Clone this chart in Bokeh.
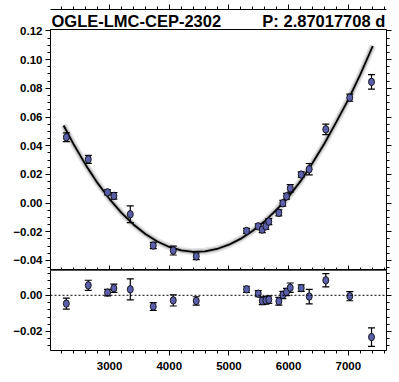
from bokeh.plotting import figure
from bokeh.models import (Range1d, LinearAxis, Span, SingleIntervalTicker, Title,
                          ColumnDataSource, CustomJSTickFormatter)
from bokeh.layouts import column
from bokeh.embed import file_html
from bokeh.resources import INLINE

title_left = "OGLE-LMC-CEP-2302"
title_right = "P: 2.87017708 d"

time = [2275, 2643, 2966, 3072, 3347, 3732, 4067, 4452, 5295, 5491, 5558,
        5618, 5668, 5836, 5903, 5965, 6027, 6211, 6345, 6623, 7025, 7389]
flux = [0.0459, 0.0305, 0.0075, 0.0050, -0.0078, -0.0296, -0.0331, -0.0371,
        -0.0194, -0.0162, -0.0185, -0.0162, -0.0129, -0.0068, -0.0001, 0.0047,
        0.0103, 0.0199, 0.0236, 0.0514, 0.0735, 0.0845]
flux_err = [0.0030, 0.0028, 0.0018, 0.0023, 0.0058, 0.0022, 0.0031, 0.0023,
            0.0017, 0.0017, 0.0021, 0.0021, 0.0021, 0.0021, 0.0020, 0.0020,
            0.0026, 0.0018, 0.0040, 0.0037, 0.0025, 0.0051]
resid = [-0.0046, 0.0055, 0.0015, 0.0039, 0.0033, -0.0062, -0.0028, -0.0031,
         0.0033, 0.0009, -0.0031, -0.0028, -0.0024, -0.0033, 0.0002, 0.0018,
         0.0042, 0.0040, -0.0007, 0.0083, -0.0005, -0.0231]

model_t = [2230, 2400, 2600, 2800, 3000, 3200, 3400, 3600, 3800, 4000, 4200,
           4400, 4600, 4800, 5000, 5200, 5400, 5600, 5800, 6000, 6200, 6400,
           6600, 6800, 7000, 7200, 7410]
model_f = [0.0541, 0.0408, 0.0266, 0.0139, 0.0028, -0.0068, -0.0149, -0.0216,
           -0.0268, -0.0306, -0.0330, -0.0340, -0.0336, -0.0320, -0.0290,
           -0.0248, -0.0193, -0.0126, -0.0046, 0.0045, 0.0153, 0.0279, 0.0415,
           0.0566, 0.0721, 0.0895, 0.1095]

FONT = "Liberation Sans"
PT_FILL = "#5b5ea8"
X0, X1 = 2010, 7640
xr = Range1d(X0, X1)

src = ColumnDataSource(dict(
    t=time, f=flux,
    lo=[a - b for a, b in zip(flux, flux_err)],
    hi=[a + b for a, b in zip(flux, flux_err)],
    r=resid,
    rlo=[a - b for a, b in zip(resid, flux_err)],
    rhi=[a + b for a, b in zip(resid, flux_err)],
))

fmt = CustomJSTickFormatter(code="""
if (Math.abs(tick) < 1e-9) { return '0.00'; }
return (tick < 0 ? '\\u2212' : '') + Math.abs(tick).toFixed(2);
""")


def style_axis(ax, labels=True, inward=False):
    ax.axis_line_color = "black"
    ax.major_tick_line_color = "black"
    ax.minor_tick_line_color = "black"
    if inward:
        ax.major_tick_in, ax.major_tick_out = 5, 0
        ax.minor_tick_in, ax.minor_tick_out = 3, 0
    else:
        ax.major_tick_in, ax.major_tick_out = 0, 5
        ax.minor_tick_in, ax.minor_tick_out = 0, 3
    ax.major_label_text_font = FONT
    ax.major_label_text_font_style = "bold"
    ax.major_label_text_color = "black"
    ax.major_label_text_font_size = "11.5px"
    if labels:
        ax.major_label_standoff = 3
    else:
        ax.formatter = CustomJSTickFormatter(code="return '';")
        ax.major_label_standoff = 0


def draw_points(p, y, lo, hi):
    p.segment(x0="t", y0=lo, x1="t", y1=hi, source=src, line_color="black", line_width=1.2)
    p.scatter(x="t", y=lo, source=src, marker="dash", size=7, line_color="black", line_width=1.2)
    p.scatter(x="t", y=hi, source=src, marker="dash", size=7, line_color="black", line_width=1.2)
    p.ellipse(x="t", y=y, width=6, height=7.5, width_units="screen", height_units="screen",
              source=src, fill_color=PT_FILL, line_color="black", line_width=0.8)


def base_fig(h, yr, top, bottom):
    f = figure(width=394, height=h, x_range=xr, y_range=yr,
               output_backend="svg", toolbar_location=None,
               min_border_left=50, min_border_right=8,
               min_border_top=top, min_border_bottom=bottom)
    f.grid.visible = False
    f.background_fill_color = "white"
    f.border_fill_color = "white"
    return f


# ---------------- top panel ----------------
top = base_fig(270, Range1d(-0.047, 0.121), 29, 0)
top.outline_line_color = "black"

gap = "\u00a0" * 9
top.add_layout(Title(text=title_left + gap + title_right, align="left", offset=1,
                     text_font=FONT, text_font_style="bold", text_font_size="16.5px",
                     text_color="black", standoff=0), "above")

top.xaxis.ticker = SingleIntervalTicker(interval=1000, num_minor_ticks=5)
style_axis(top.xaxis[0], labels=False, inward=True)
top.yaxis.ticker = SingleIntervalTicker(interval=0.02, num_minor_ticks=4)
top.yaxis.formatter = fmt
style_axis(top.yaxis[0])

ax_above = LinearAxis(ticker=SingleIntervalTicker(interval=1000, num_minor_ticks=5))
style_axis(ax_above, labels=False)
top.add_layout(ax_above, "above")
ax_right = LinearAxis(ticker=SingleIntervalTicker(interval=0.02, num_minor_ticks=4))
style_axis(ax_right, labels=False)
top.add_layout(ax_right, "right")

top.line(model_t, model_f, line_color="#b0b0b0", line_width=7, line_alpha=0.35)
top.line(model_t, model_f, line_color="#808080", line_width=4, line_alpha=0.4)
top.line(model_t, model_f, line_color="black", line_width=1.8)
draw_points(top, "f", "lo", "hi")

# ---------------- residual panel ----------------
bot = base_fig(108, Range1d(-0.0305, 0.0137), 0, 28)
bot.outline_line_color = "#555555"
bot.xaxis.ticker = SingleIntervalTicker(interval=1000, num_minor_ticks=5)
style_axis(bot.xaxis[0])
bot.xaxis.major_label_standoff = 6
bot.yaxis.ticker = SingleIntervalTicker(interval=0.02, num_minor_ticks=5)
bot.yaxis.formatter = fmt
style_axis(bot.yaxis[0])
ax_r2 = LinearAxis(ticker=SingleIntervalTicker(interval=0.02, num_minor_ticks=5))
style_axis(ax_r2, labels=False)
bot.add_layout(ax_r2, "right")

bot.add_layout(Span(location=0, dimension="width", line_color="black",
                    line_dash="2 2", line_width=1))
draw_points(bot, "r", "rlo", "rhi")

layout = column(top, bot, spacing=0)
open("out.html", "w").write(file_html(layout, INLINE))
